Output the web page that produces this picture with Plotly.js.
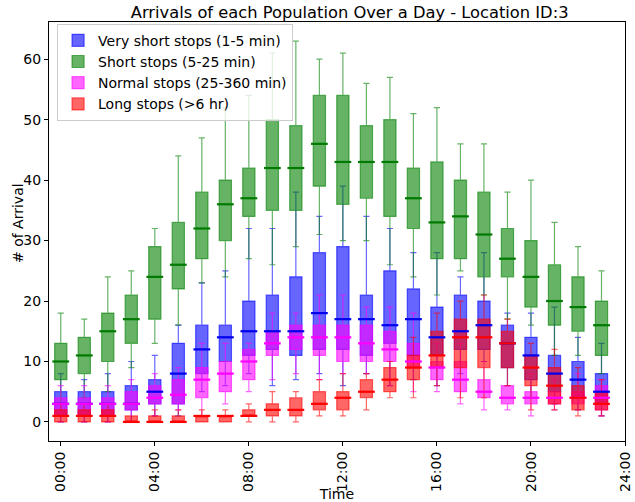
<!DOCTYPE html>
<html><head><meta charset="utf-8">
<script src="https://cdn.plot.ly/plotly-3.0.1.min.js"></script>
<style>html,body{margin:0;padding:0;background:#fff}#chart{width:635px;height:502px}</style>
</head><body><div id="chart"></div>
<script>
// hour of day (box positions)
const hours = [0,1,2,3,4,5,6,7,8,9,10,11,12,13,14,15,16,17,18,19,20,21,22,23];
const tickHours = [0,4,8,12,16,20,24];
const tickLabels = ['00:00','04:00','08:00','12:00','16:00','20:00','24:00'];
const yTicks = [0,10,20,30,40,50,60];
const seriesNames = ['Very short stops (1-5 min)','Short stops (5-25 min)','Normal stops (25-360 min)','Long stops (>6 hr)'];

// Very short stops (1-5 min)
const vsUpper = [8,7,8,10,11,16,23,25,32,32,38,34,39,34,32,28,28,24,28,18,18,19,14,13];
const vsQ3    = [5,5,5,6,7,13,16,16,20,21,24,28,29,21,25,22,19,21,20,16,14,11,10,8];
const vsMed   = [3,3,3,3,5,8,12,14,15,15,15,18,17,17,16,17,14,15,16,13,11,8,7,5];
const vsQ1    = [1,1,1,2,3,3,8,10,11,12,11,12,12,11,13,11,11,12,12,9,7,5,4,3];
const vsLower = [0,0,0,0,1,1,5,6,8,6,7,8,6,8,6,7,6,8,10,6,4,3,2,1];

// Short stops (5-25 min)
const shUpper = [18,17,24,25,32,44,47,52,54,61,63,60,61,56,57,51,52,46,46,38,40,33,29,25];
const shQ3    = [13,14,18,21,29,33,38,40,42,50,49,54,54,49,50,42,43,40,38,32,30,26,24,20];
const shMed   = [10,11,15,17,24,26,32,36,37,42,42,46,43,43,43,37,33,34,31,27,24,20,19,16];
const shQ1    = [7,8,10,13,17,22,27,30,34,35,35,39,36,37,34,32,27,27,24,24,19,16,15,11];
const shLower = [3,4,5,9,13,16,23,24,27,26,29,31,30,30,26,24,21,25,21,17,16,11,11,8];

// Normal stops (25-360 min)
const nmUpper = [6,6,6,7,8,9,13,13,13,18,18,21,21,19,19,18,13,13,10,6,8,7,8,7];
const nmQ3    = [4,4,4,5,6,7,9,10,12,15,16,16,16,16,15,13,10,10,7,6,5,5,5,6];
const nmMed   = [3,3,3,3,4,4.5,7,8,10,13,14,14,14,13,12,10,9,7,5,4,4,4,4,4];
const nmQ1    = [1,1,1,2,3,3,4,5,7,11,12,11,10,10,10,9,7,5,4,3,3,3,3,2];
const nmLower = [0,0,0,0,1,2,1,3,5,7,8,7,8,8,6,5,5,3,2,2,1,2,2,1];

// Long stops (>6 hr)
const lgUpper = [3,3,3,1,2,2,2,2,3,5,5,7,8,8,10,14,18,20,21,17,13,12,9,7];
const lgQ3    = [2,2,2,1,1,1,1,1,2,3,4,5,5,7,9,11,15,17,17,15,11,9,6,5];
const lgMed   = [1,1,1,0,0,0,1,1,1,2,2,3,4,5,7,9,11,14,14,13,9,6,4,3];
const lgQ1    = [0,0,0,0,0,0,0,0,1,1,1,2,2,4,5,7,9,9,9,9,6,3,2,2];
const lgLower = [0,0,0,0,0,0,0,0,0,0,0,1,1,2,4,4,6,4,4,6,2,2,1,1];

const series = [
  {name: seriesNames[0], up: vsUpper, q3: vsQ3, med: vsMed, q1: vsQ1, lo: vsLower, rgb: '0,0,255', medColor: '#0000ee'},
  {name: seriesNames[1], up: shUpper, q3: shQ3, med: shMed, q1: shQ1, lo: shLower, rgb: '0,128,0', medColor: '#007a00'},
  {name: seriesNames[2], up: nmUpper, q3: nmQ3, med: nmMed, q1: nmQ1, lo: nmLower, rgb: '255,0,255', medColor: '#ff00ff'},
  {name: seriesNames[3], up: lgUpper, q3: lgQ3, med: lgMed, q1: lgQ1, lo: lgLower, rgb: '255,0,0', medColor: '#ff0000'}
];

const traces = [];
series.forEach(s => {
  traces.push({
    type: 'box', name: s.name, x: hours,
    q1: s.q1, median: s.med, q3: s.q3, lowerfence: s.lo, upperfence: s.up,
    width: 0.52, whiskerwidth: 0.5, boxpoints: false,
    fillcolor: 'rgba(' + s.rgb + ',0.6)',
    line: {color: 'rgba(' + s.rgb + ',0.6)', width: 1.2},
    hoverinfo: 'skip'
  });
});
series.forEach(s => {
  traces.push({
    type: 'scatter', mode: 'markers', x: hours, y: s.med, showlegend: false, hoverinfo: 'skip',
    marker: {symbol: 'line-ew-open', size: 12, color: s.medColor, line: {width: 2.2, color: s.medColor}}
  });
});

const font = {family: 'DejaVu Sans, sans-serif', color: '#000'};
const layout = {
  width: 635, height: 502,
  margin: {l: 49, r: 10, t: 22, b: 61, pad: 0},
  paper_bgcolor: '#fff', plot_bgcolor: '#fff',
  boxmode: 'overlay',
  font: Object.assign({size: 14}, font),
  title: {text: 'Arrivals of each Population Over a Day - Location ID:3', font: Object.assign({size: 16.3}, font),
          x: 0.522, xref: 'paper', xanchor: 'center', y: 0.976, yref: 'container', yanchor: 'middle'},
  xaxis: {
    range: [-0.5, 24], tickmode: 'array', tickvals: tickHours, ticktext: tickLabels,
    tickangle: -90, ticks: 'outside', ticklen: 4, tickwidth: 1, tickcolor: '#000',
    showline: true, mirror: true, linecolor: '#000', linewidth: 1,
    showgrid: false, zeroline: false, automargin: false,
    tickfont: Object.assign({size: 14}, font),
    title: {text: 'Time', font: Object.assign({size: 14}, font), standoff: 2}
  },
  yaxis: {
    range: [-3.15, 66.15], tickmode: 'array', tickvals: yTicks,
    ticks: 'outside', ticklen: 4, tickwidth: 1, tickcolor: '#000',
    showline: true, mirror: true, linecolor: '#000', linewidth: 1,
    showgrid: false, zeroline: false, automargin: false,
    tickfont: Object.assign({size: 14}, font)
  },
  annotations: [{
    text: '# of Arrival', textangle: -90, showarrow: false,
    xref: 'paper', yref: 'paper', x: -0.054, y: 0.52, xanchor: 'center', yanchor: 'middle',
    font: Object.assign({size: 14}, font)
  }],
  legend: {x: 0.014, y: 0.996, xanchor: 'left', yanchor: 'top',
           bgcolor: 'rgba(255,255,255,0.8)', bordercolor: '#cccccc', borderwidth: 1,
           font: Object.assign({size: 14}, font), traceorder: 'normal'},
  showlegend: true
};
Plotly.newPlot('chart', traces, layout, {displayModeBar: false, staticPlot: true});
</script>
</body></html>
